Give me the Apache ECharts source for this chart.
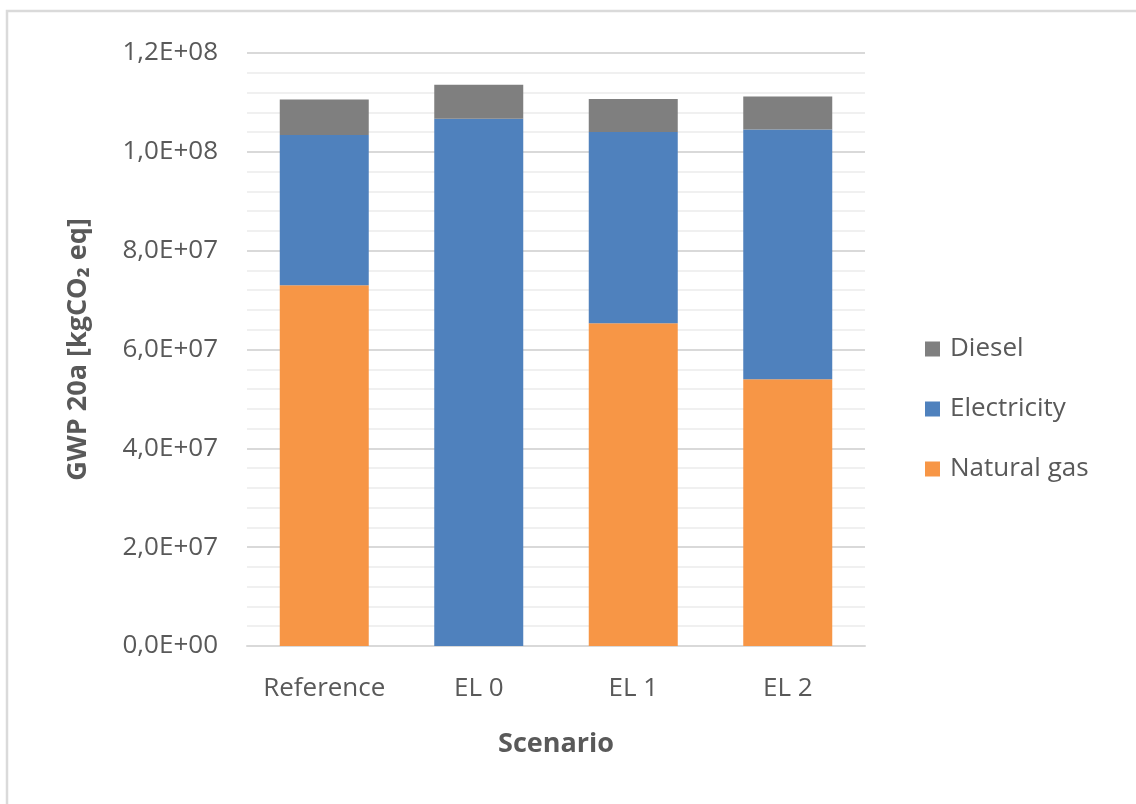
<!DOCTYPE html>
<html>
<head>
<meta charset="utf-8">
<script src="https://cdn.jsdelivr.net/npm/echarts@6/dist/echarts.min.js"></script>
<style>
  html, body { margin: 0; padding: 0; background: #ffffff; }
  #chart { width: 1136px; height: 804px; }
</style>
</head>
<body>
<div id="chart"></div>
<script>
// Scenarios on the x axis
const scenarios = ['Reference', 'EL 0', 'EL 1', 'EL 2'];
// GWP 20a contributions per energy carrier [kgCO2 eq]
const naturalGas = [7.30e7, 0, 6.53e7, 5.40e7];
const electricity = [3.04e7, 10.67e7, 3.87e7, 5.05e7];
const diesel = [0.72e7, 0.69e7, 0.67e7, 0.67e7];
// Legend order (top to bottom)
const legendOrder = ['Diesel', 'Electricity', 'Natural gas'];

const textColor = '#595959';
const font = "'Open Sans', 'Noto Sans', sans-serif";

// Excel-style scientific label: 1,2E+08
function sciLabel(v) {
  const parts = Number(v).toExponential(1).split('e');
  const mant = parts[0].replace('.', ',');
  const exp = parseInt(parts[1], 10);
  const sign = exp < 0 ? '-' : '+';
  const e = String(Math.abs(exp)).padStart(2, '0');
  return mant + 'E' + sign + e;
}

const chart = echarts.init(document.getElementById('chart'), null, { renderer: 'canvas' });

chart.setOption({
  backgroundColor: '#ffffff',
  animation: false,
  textStyle: { fontFamily: font, color: textColor },
  graphic: [
    {
      type: 'polyline',
      shape: { points: [[7, 804], [7, 11], [1136, 11]] },
      style: { stroke: '#dadada', lineWidth: 2.5, fill: null }
    }
  ],
  grid: { left: 247, right: 271, top: 53, bottom: 158, containLabel: false },
  legend: {
    data: legendOrder,
    orient: 'vertical',
    left: 920,
    top: 329,
    itemWidth: 25,
    itemHeight: 15,
    itemGap: 30,
    icon: 'path://M0,0H10V10H0Z',
    textStyle: { fontFamily: font, fontSize: 26, color: textColor, lineHeight: 30 }
  },
  xAxis: {
    type: 'category',
    data: scenarios,
    name: 'Scenario',
    nameLocation: 'middle',
    nameGap: 85,
    nameTextStyle: { fontFamily: font, fontSize: 27, fontWeight: 'bold', color: textColor },
    axisLine: { show: true, lineStyle: { color: '#d9d9d9', width: 2 } },
    axisTick: { show: false },
    axisLabel: { interval: 0, fontFamily: font, fontSize: 26, color: textColor, margin: 30 }
  },
  yAxis: {
    type: 'value',
    min: 0,
    max: 1.2e8,
    interval: 2e7,
    name: 'GWP 20a [kgCO\u2082 eq]',
    nameLocation: 'middle',
    nameGap: 155,
    nameRotate: 90,
    nameTextStyle: { fontFamily: font, fontSize: 27, fontWeight: 'bold', color: textColor },
    axisLine: { show: false },
    axisTick: { show: false },
    minorTick: { show: false, splitNumber: 5 },
    minorSplitLine: { show: true, lineStyle: { color: '#f0f0f0', width: 2 } },
    splitLine: { show: true, lineStyle: { color: '#d9d9d9', width: 2 } },
    axisLabel: { fontFamily: font, fontSize: 26, color: textColor, margin: 29, formatter: sciLabel }
  },
  series: [
    {
      name: 'Natural gas',
      type: 'bar',
      stack: 'total',
      barWidth: 89,
      data: naturalGas,
      itemStyle: { color: '#F79646' }
    },
    {
      name: 'Electricity',
      type: 'bar',
      stack: 'total',
      barWidth: 89,
      data: electricity,
      itemStyle: { color: '#4F81BD' }
    },
    {
      name: 'Diesel',
      type: 'bar',
      stack: 'total',
      barWidth: 89,
      data: diesel,
      itemStyle: { color: '#7F7F7F' }
    }
  ]
});
</script>
</body>
</html>
